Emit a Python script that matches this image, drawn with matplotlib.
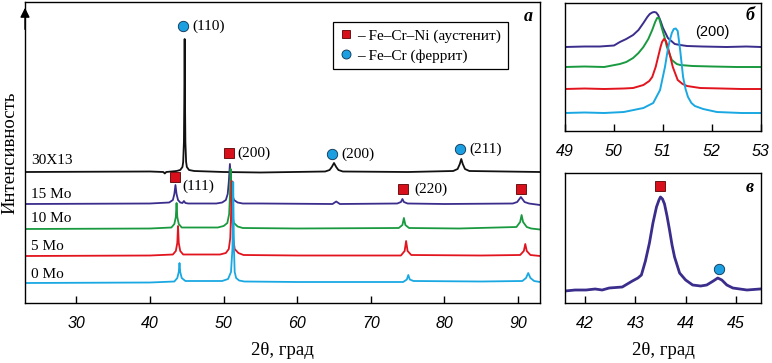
import matplotlib
matplotlib.use("Agg")
import matplotlib.pyplot as plt
from matplotlib.lines import Line2D

SERIF = ["Liberation Serif", "DejaVu Serif"]
SANS = ["Liberation Sans", "DejaVu Sans"]

C_BLACK = "#111111"
C_15 = "#3a2d8c"
C_10 = "#1a9a40"
C_5 = "#e2141e"
C_0 = "#1aa8e2"
C_SQ = "#d8101c"
C_CI = "#1c9fe0"

# ---------------- main panel (a) ----------------
labels = ["30X13", "15 Mo", "10 Mo", "5 Mo", "0 Mo"]
colors = [C_BLACK, C_15, C_10, C_5, C_0]
offsets = [131, 99, 74, 47, 20]

x_30 = [23, 40, 41.8, 42.0, 42.2, 43.6, 44.1, 44.4, 44.5, 44.6, 44.65, 44.7, 44.75, 44.8,
        44.9, 45.0, 45.3, 46.0, 50, 55, 63.8, 64.4, 64.7, 65.0, 65.3, 65.6, 66.2, 75,
        81.2, 81.8, 82.1, 82.3, 82.5, 82.8, 83.4, 93]
y_30 = [0, 0.5, 0, -1.5, 0, 1, 2, 5, 10, 30, 70, 133, 70, 30,
        10, 5, 2, 1, 0, -0.5, 0.5, 2, 5, 9, 5, 2, 0.5, 0,
        1, 3, 8, 13, 8, 3, 1, 0]

x_15 = [23, 40, 42.6, 43.1, 43.3, 43.45, 43.6, 43.8, 44.1, 44.4, 44.6, 44.8, 45.2, 49.0,
        49.8, 50.3, 50.55, 50.7, 50.85, 51.0, 51.15, 51.4, 51.9, 52.6, 55, 64.8, 65.3,
        65.8, 73.6, 74.1, 74.3, 74.5, 75.0, 80, 89.3, 89.9, 90.2, 90.4, 90.6, 90.9, 91.5, 93]
y_15 = [0, 0.5, 1.5, 4, 10, 19, 10, 4, 1.5, 1, 3, 1, 0.5, 0.5,
        1.5, 4, 10, 22, 40, 22, 10, 4, 1.5, 0.5, 0.5, 0, 2.5,
        0, 0.5, 2, 5, 2, 0.5, 0, 0.5, 2, 5, 7, 5, 2, 0.5, -1]

x_10 = [23, 40, 42.9, 43.3, 43.5, 43.6, 43.7, 43.9, 44.3, 49.2, 50.0, 50.5, 50.75, 50.85,
        50.95, 51.05, 51.15, 51.4, 51.9, 52.6, 60, 73.8, 74.3, 74.5, 74.7, 75.2, 82,
        89.8, 90.3, 90.5, 90.7, 91.2, 91.8, 93]
y_10 = [0, 0.5, 1.5, 5, 12, 26, 12, 5, 1.5, 1.5, 3, 6, 15, 32,
        60, 32, 15, 6, 2.5, 1, 0.5, 1, 4, 11, 4, 1, 0.5,
        2, 7, 14, 7, 2, 0.5, -0.5]

x_5 = [23, 40, 43.1, 43.5, 43.7, 43.8, 43.9, 44.1, 44.5, 49.5, 50.3, 50.7, 50.9, 51.0,
       51.1, 51.2, 51.3, 51.5, 52.0, 52.7, 60, 74.1, 74.6, 74.8, 75.0, 75.5, 85,
       90.3, 90.8, 91.0, 91.2, 91.7, 93]
y_5 = [0, 0.5, 1.5, 5, 13, 30, 13, 5, 1.5, 1.5, 3, 7, 18, 40,
       75, 40, 18, 7, 3, 1, 0.5, 0.5, 5, 15, 5, 1, 0.5,
       1, 5, 12, 5, 1, 0]

x_0 = [23, 40, 43.3, 43.7, 43.9, 44.0, 44.1, 44.3, 44.8, 49.8, 50.6, 51.0, 51.2, 51.3,
       51.4, 51.5, 51.7, 52.1, 52.8, 60, 74.4, 74.9, 75.1, 75.3, 75.8, 85,
       90.6, 91.1, 91.4, 91.7, 92.2, 93]
y_0 = [0, 0.5, 1.5, 5, 11, 20, 11, 5, 2, 2, 4, 11, 35, 101,
       35, 11, 5, 2.5, 1.5, 1, 1, 3.5, 8, 3.5, 2, 1.5,
       2, 5, 10, 5, 2, 1]

main_x = [x_30, x_15, x_10, x_5, x_0]
main_y = [y_30, y_15, y_10, y_5, y_0]
label_y = [142, 109, 84, 56, 29]

# peak annotations: (marker, x, y, text, text_x, text_y)
peak_marks = [
    ("o", 44.52, 277, "(110)", 45.75, 277),
    ("s", 50.77, 150, "(200)", 51.85, 150),
    ("s", 43.44, 126, "(111)", 44.39, 117),
    ("o", 64.75, 149, "(200)", 65.97, 149),
    ("o", 82.12, 154, "(211)", 83.35, 154),
    ("s", 74.39, 114, "(220)", 75.88, 114),
    ("s", 90.4, 114, "", 0, 0),
]

main_xticks = [30, 40, 50, 60, 70, 80, 90]

# ---------------- inset (б) ----------------
b_x15 = [49, 49.4, 49.71, 50.0, 50.12, 50.25, 50.39, 50.5, 50.6, 50.68, 50.73, 50.78, 50.82,
         50.86, 50.9, 50.95, 51.0, 51.1, 51.24, 51.35, 51.49, 51.8, 52.3, 52.7, 53]
b_y15 = [84, 84.5, 84.5, 85.5, 89, 92, 96, 101, 108, 114, 117, 118.5, 119,
         118.5, 116, 110, 103, 93, 87, 86, 85, 84.5, 84, 84.5, 84]
b_x10 = [49, 49.4, 49.8, 50.12, 50.25, 50.39, 50.5, 50.6, 50.7, 50.78, 50.84, 50.88, 50.92,
         50.97, 51.03, 51.08, 51.18, 51.28, 51.35, 51.6, 52.0, 52.5, 53]
b_y10 = [64, 64.5, 64, 67, 69, 73, 78, 84, 92, 101, 109, 113, 113,
         104, 94, 84, 71, 67, 66, 65, 64.5, 64, 64]
b_x5 = [49, 49.4, 49.8, 50.2, 50.39, 50.6, 50.72, 50.78, 50.85, 50.9, 50.95, 50.98, 51.02,
        51.06, 51.1, 51.2, 51.3, 51.4, 51.49, 51.76, 52.2, 52.6, 53]
b_y5 = [42, 42.5, 42, 42.5, 43, 46, 50, 54, 64, 74, 84, 89, 92,
        90, 84, 64, 51, 47, 45, 43, 42.5, 42, 42]
b_x0 = [49, 49.4, 49.8, 50.2, 50.6, 50.8, 50.94, 51.04, 51.1, 51.14, 51.18, 51.22, 51.26,
        51.3, 51.35, 51.41, 51.46, 51.51, 51.58, 51.65, 51.82, 52.1, 52.6, 53]
b_y0 = [18, 18.5, 18, 19, 23, 28, 41, 64, 82, 91, 98, 102, 102.5,
        100, 81, 54, 42, 34, 28, 25, 22, 19, 18, 18]
b_xs = [b_x15, b_x10, b_x5, b_x0]
b_ys = [b_y15, b_y10, b_y5, b_y0]
b_colors = [C_15, C_10, C_5, C_0]
b_xticks = [49, 50, 51, 52, 53]

# ---------------- inset (в) ----------------
v_x = [41.6, 41.8, 42.02, 42.2, 42.34, 42.48, 42.74, 42.94, 43.05, 43.12, 43.2, 43.28, 43.35,
       43.42, 43.47, 43.5, 43.54, 43.58, 43.63, 43.68, 43.73, 43.78, 43.88, 44.0, 44.14, 44.3,
       44.42, 44.55, 44.64, 44.72, 44.82, 44.94, 45.22, 45.48]
v_y = [12, 13, 13, 14, 13, 15, 16, 22, 25, 28, 42, 60, 80,
       96, 103, 106, 104, 99, 87, 73, 58, 46, 30, 23, 18, 17,
       18, 22, 25, 23, 18, 15, 13, 14]
v_marks = [("s", 43.5, 117), ("o", 44.66, 34)]
v_xticks = [42, 43, 44, 45]

# ---------------- figure ----------------
fig = plt.figure(figsize=(7.72, 3.63), dpi=100)
ax = fig.add_axes([25 / 772, 60 / 363, 515 / 772, 301 / 363])
axb = fig.add_axes([565 / 772, 232 / 363, 196 / 772, 128 / 363])
axv = fig.add_axes([565 / 772, 60 / 363, 196 / 772, 130 / 363])


def mark(a, m, x, y, ms=7):
    if m == "s":
        a.plot([x], [y], marker="s", ms=ms, mfc=C_SQ, mec="#5a0000", mew=0.6, ls="none", zorder=5)
    else:
        a.plot([x], [y], marker="o", ms=ms + 0.5, mfc=C_CI, mec="#0a3050", mew=0.6, ls="none", zorder=5)


for xs, ys, off, c, lab, ly in zip(main_x, main_y, offsets, colors, labels, label_y):
    ax.plot(xs, [v + off for v in ys], color=c, lw=1.3)
    ax.text(23.85, ly, lab, family=SERIF, fontsize=11, va="center", ha="left")

for m, x, y, t, tx, ty in peak_marks:
    mark(ax, m, x, y)
    if t:
        ax.text(tx, ty, t, family=SERIF, fontsize=11, va="center", ha="left")

ax.set_xlim(23, 93)
ax.set_ylim(0, 301)
ax.set_xticks(main_xticks)
ax.set_yticks([])
ax.tick_params(axis="x", direction="in", length=5, width=1, pad=9)
for lbl in ax.get_xticklabels():
    lbl.set_family(SANS)
    lbl.set_style("italic")
    lbl.set_fontsize(11.5)
ax.set_xlabel("2θ, град", family=SERIF, fontsize=13.5, labelpad=8)
ax.set_ylabel("Интенсивность", family=SERIF, fontsize=13.5)
ax.yaxis.set_label_coords(-0.012, 0.5)
ax.annotate("", xy=(0, 0.99), xytext=(0, 0.9), xycoords="axes fraction",
            arrowprops=dict(arrowstyle="-|>", color="k", lw=1, mutation_scale=14))
ax.text(0.977, 0.953, "a", transform=ax.transAxes, family=SERIF, fontsize=13,
        weight="bold", style="italic", ha="center", va="center")

handles = [
    Line2D([], [], marker="s", ls="none", ms=6, mfc=C_SQ, mec="#5a0000", mew=0.6),
    Line2D([], [], marker="o", ls="none", ms=6.5, mfc=C_CI, mec="#0a3050", mew=0.6),
]
leg = ax.legend(handles, ["– Fe–Cr–Ni (аустенит)", "– Fe–Cr (феррит)"],
                loc="upper left", bbox_to_anchor=(0.598, 0.934), borderaxespad=0,
                frameon=True, fancybox=False, edgecolor="k", framealpha=1,
                borderpad=0.45, handlelength=0.8, handletextpad=0.35, labelspacing=0.4,
                prop={"family": SERIF, "size": 11})
leg.get_frame().set_linewidth(0.9)

for a in (ax, axb, axv):
    for s in a.spines.values():
        s.set_linewidth(1)

# inset б
for xs, ys, c in zip(b_xs, b_ys, b_colors):
    axb.plot(xs, ys, color=c, lw=1.4)
axb.set_xlim(49, 53)
axb.set_ylim(0, 128)
axb.set_xticks(b_xticks)
axb.set_yticks([])
axb.tick_params(axis="x", direction="in", length=5, width=1, pad=9)
for lbl in axb.get_xticklabels():
    lbl.set_family(SANS)
    lbl.set_style("italic")
    lbl.set_fontsize(11.5)
axb.text(0.75, 0.773, "(200)", transform=axb.transAxes, family=SANS, fontsize=10.5,
         ha="center", va="center")
axb.text(0.944, 0.906, "б", transform=axb.transAxes, family=SERIF, fontsize=13,
         weight="bold", style="italic", ha="center", va="center")

# inset в
axv.plot(v_x, v_y, color=C_15, lw=2)
for m, x, y in v_marks:
    mark(axv, m, x, y)
axv.set_xlim(41.6, 45.5)
axv.set_ylim(0, 130)
axv.set_xticks(v_xticks)
axv.set_yticks([])
axv.tick_params(axis="x", direction="in", length=5, width=1, pad=9)
for lbl in axv.get_xticklabels():
    lbl.set_family(SANS)
    lbl.set_style("italic")
    lbl.set_fontsize(11.5)
axv.set_xlabel("2θ, град", family=SERIF, fontsize=13.5, labelpad=8)
axv.text(0.944, 0.885, "в", transform=axv.transAxes, family=SERIF, fontsize=13,
         weight="bold", style="italic", ha="center", va="center")

fig.savefig("out.png", dpi=100)
